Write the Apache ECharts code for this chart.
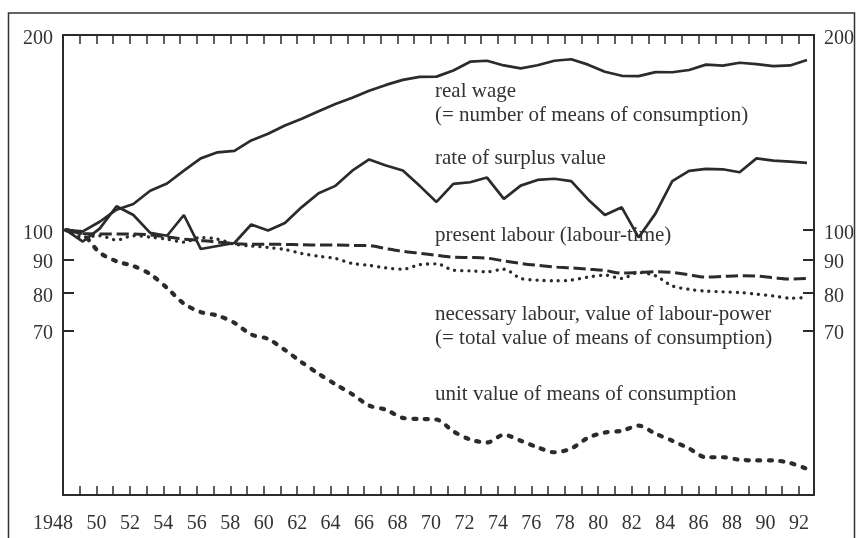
<!DOCTYPE html>
<html>
<head>
<meta charset="utf-8">
<title>real wage and labour values 1948-92</title>
<script src="https://cdn.jsdelivr.net/npm/echarts@6/dist/echarts.min.js"></script>
<style>
  html, body { margin: 0; padding: 0; background: #fff; }
  #chart { width: 857px; height: 538px; }
</style>
</head>
<body>
<div id="chart"></div>
<script>
// years of the series (annual)
const years = [1948, 1949, 1950, 1951, 1952, 1953, 1954, 1955, 1956, 1957,
  1958, 1959, 1960, 1961, 1962, 1963, 1964, 1965, 1966, 1967,
  1968, 1969, 1970, 1971, 1972, 1973, 1974, 1975, 1976, 1977,
  1978, 1979, 1980, 1981, 1982, 1983, 1984, 1985, 1986, 1987,
  1988, 1989, 1990, 1991, 1992];

// index, 1948 = 100
const realWage = [100, 99.5, 103, 107.5, 109.7, 115, 118, 123.5, 129, 131.8,
  132.5, 137.5, 140.8, 145, 148.5, 152.5, 156.5, 160, 164, 167.5,
  170.5, 172.3, 172.5, 176.3, 181.9, 182.5, 179.5, 177.6, 179.6, 182.5,
  183.5, 180, 175.5, 173, 172.8, 175.3, 175.2, 176.6, 180, 179.4,
  181.2, 180.3, 179, 179.5, 183];
const surplusRate = [100, 96, 100.5, 108.8, 105.5, 99, 98, 105.5, 93.5, 94.5,
  95.5, 102, 99.8, 102.5, 108.5, 114, 117, 123.5, 128.5, 125.8,
  123.6, 117, 110.5, 117.8, 118.5, 120.5, 111.7, 117.1, 119.5, 120,
  119, 111.5, 105.5, 108.4, 97.4, 106, 119, 123.4, 124.3, 124.1,
  122.8, 129, 128, 127.5, 127];
const presentLabour = [100, 98.8, 98.6, 98.6, 98.6, 98.3, 97.6, 96.8, 96.4, 95.8,
  95.3, 95.1, 95.1, 95.0, 94.9, 94.8, 94.8, 94.7, 94.6, 93.6,
  92.7, 92.1, 91.4, 90.8, 90.7, 90.5, 89.6, 88.8, 88.2, 87.7,
  87.4, 87.0, 86.6, 85.8, 86.0, 86.2, 86.0, 85.3, 84.6, 84.8,
  85.0, 84.9, 84.4, 84.0, 84.2];
const necessaryLabour = [100, 97.5, 98, 96.5, 98, 97.5, 96.8, 95.8, 97.4, 96.8,
  95.1, 94.5, 94, 93.3, 92, 91.1, 90.4, 88.8, 88.2, 87.4,
  87.0, 88.4, 88.7, 86.7, 86.5, 86.2, 87.0, 84.2, 83.7, 83.5,
  83.7, 84.6, 85.2, 84.2, 86.0, 85.0, 82.0, 81.0, 80.5, 80.3,
  80.1, 79.6, 79.1, 78.5, 78.7];
const unitValue = [100, 98.5, 92.3, 89.5, 88.0, 85.5, 81.4, 77.0, 74.7, 73.8,
  71.9, 69.0, 67.9, 65.3, 62.5, 60.0, 57.8, 55.8, 53.6, 52.8,
  51.3, 51.1, 51.0, 48.9, 47.5, 47.0, 48.3, 47.3, 46.2, 45.4,
  46.0, 47.8, 48.7, 49.0, 49.9, 48.5, 47.3, 46.0, 44.6, 44.6,
  44.2, 44.1, 44.1, 43.7, 42.8];

// axis ticks and labels
const xTickYears = years;
const xLabelYears = [1948, 1950, 1952, 1954, 1956, 1958, 1960, 1962, 1964, 1966, 1968, 1970,
  1972, 1974, 1976, 1978, 1980, 1982, 1984, 1986, 1988, 1990, 1992];
const yTickValues = [70, 80, 90, 100, 200];

// notes written inside the plot
const notes = [
  {text: 'real wage', y: 93},
  {text: '(= number of means of consumption)', y: 117},
  {text: 'rate of surplus value', y: 160},
  {text: 'present labour (labour-time)', y: 237},
  {text: 'necessary labour, value of labour-power', y: 316},
  {text: '(= total value of means of consumption)', y: 340},
  {text: 'unit value of means of consumption', y: 396}
];

const ink = '#2b2b2b';
const serif = '"Liberation Serif", "DejaVu Serif", serif';
const lg = v => Math.log10(v);

function pairs(values) {
  return years.map((y, i) => [y, lg(values[i])]);
}

// the first year is written in full and sits left of its tick
function yearLabel(v) {
  return v === 1948 ? '{first|1948}' : String(v % 100);
}

function makeY(pos) {
  return {
    type: 'value',
    position: pos,
    min: lg(39),
    max: lg(200),
    splitLine: {show: false},
    axisLine: {show: true, lineStyle: {color: ink, width: 2}},
    axisTick: {show: true, inside: true, length: 11, lineStyle: {color: ink, width: 2},
      customValues: yTickValues.map(lg)},
    axisLabel: {show: true, margin: 10, color: '#333', fontFamily: serif, fontSize: 20,
      customValues: yTickValues.map(lg),
      // labels sit a little below their ticks in the original
      formatter: v => '{n|' + Math.round(Math.pow(10, v)) + '}',
      rich: {n: {fontFamily: serif, fontSize: 20, color: '#333', padding: [7, 0, 0, 0]}}}
  };
}

function makeX(pos, withLabels) {
  return {
    type: 'value',
    position: pos,
    min: 1948,
    max: 1992.9,
    splitLine: {show: false},
    axisLine: {show: true, onZero: false, lineStyle: {color: ink, width: 2}},
    axisTick: {show: true, inside: true, length: 9, lineStyle: {color: ink, width: 1.5},
      customValues: xTickYears},
    axisLabel: {show: withLabels, margin: 19, color: '#333', fontFamily: serif, fontSize: 20,
      customValues: xLabelYears, formatter: yearLabel,
      rich: {first: {fontFamily: serif, fontSize: 20, color: '#333', padding: [0, 20, 0, 0]}}}
  };
}

const chart = echarts.init(document.getElementById('chart'), null, {renderer: 'canvas'});

const option = {
  animation: false,
  backgroundColor: '#fff',
  grid: {left: 63, right: 43, top: 35, bottom: 43},
  xAxis: [
    makeX('bottom', true),
    makeX('top', false),
    // the curves are drawn a little wider than the tick scale
    {type: 'value', show: false, min: 1947.822, max: 1992.416}
  ],
  yAxis: [makeY('left'), makeY('right')],
  graphic: [
    {type: 'rect', silent: true, z: -1,
      shape: {x: 8.5, y: 13, width: 846, height: 540},
      style: {fill: 'none', stroke: '#333', lineWidth: 1.5}}
  ].concat(notes.map(n => ({
    type: 'text', left: 435, top: n.y - 12, silent: true,
    style: {text: n.text, fill: '#333', font: '21px ' + serif}
  }))),
  series: [
    {name: 'real wage', type: 'line', xAxisIndex: 2, yAxisIndex: 0,
      data: pairs(realWage), showSymbol: false,
      lineStyle: {color: ink, width: 2.7}},
    {name: 'rate of surplus value', type: 'line', xAxisIndex: 2, yAxisIndex: 0,
      data: pairs(surplusRate), showSymbol: false,
      lineStyle: {color: ink, width: 2.7}},
    {name: 'present labour', type: 'line', xAxisIndex: 2, yAxisIndex: 0,
      data: pairs(presentLabour), showSymbol: false, smooth: 0.3,
      lineStyle: {color: ink, width: 3, type: [12, 5]}},
    {name: 'necessary labour', type: 'line', xAxisIndex: 2, yAxisIndex: 0,
      data: pairs(necessaryLabour), showSymbol: false, smooth: 0.3,
      lineStyle: {color: ink, width: 3.3, type: [0.1, 7], cap: 'round'}},
    {name: 'unit value', type: 'line', xAxisIndex: 2, yAxisIndex: 0,
      data: pairs(unitValue), showSymbol: false, smooth: 0.3,
      lineStyle: {color: ink, width: 4.2, type: [3, 8.5], cap: 'round'}}
  ]
};

chart.setOption(option);
</script>
</body>
</html>
